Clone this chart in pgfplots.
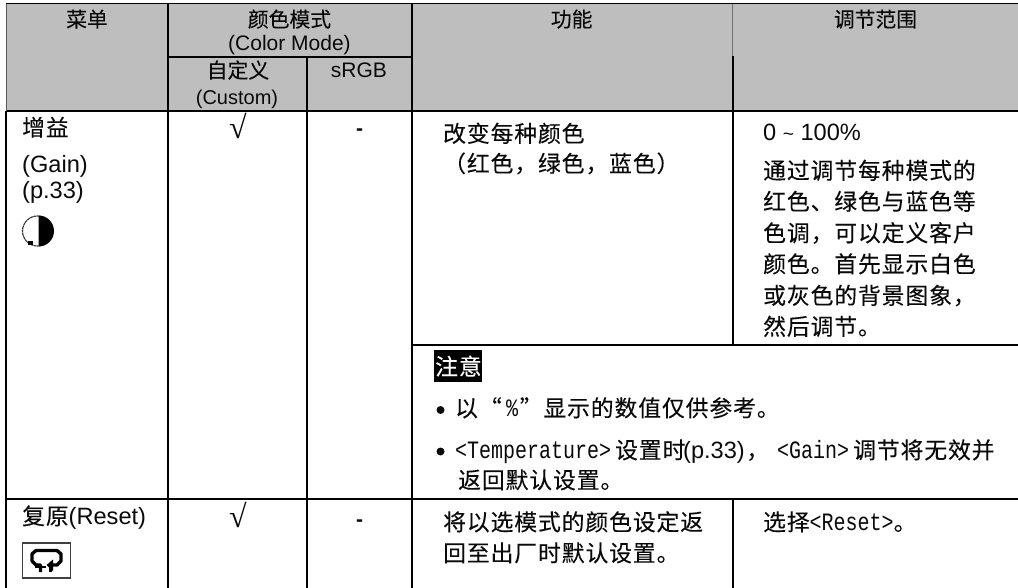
\documentclass[border=0pt]{standalone}
\usepackage{fontspec}
\usepackage{pgfplots}
\pgfplotsset{compat=1.18}
\setmainfont{Liberation Sans}
\newfontfamily\cjk[LetterSpace=4,FakeBold=0.15]{Noto Sans CJK SC}
\newfontfamily\cjkh[LetterSpace=0,FakeBold=0.1]{Noto Sans CJK SC}
\newfontfamily\mono[FakeStretch=0.8]{Liberation Mono}
\newfontfamily\srf{Liberation Serif}
\newcommand{\B}{\cjk\fontsize{22.8pt}{22.8pt}\selectfont}
\newcommand{\Bb}{\cjkh\fontsize{20.8pt}{20.8pt}\selectfont}
\newcommand{\La}{\normalfont\fontsize{23.6pt}{23.6pt}\selectfont}
\newcommand{\Lh}{\normalfont\fontsize{21pt}{21pt}\selectfont}
\newcommand{\M}{\mono\fontsize{25pt}{25pt}\selectfont}
\newcommand{\tl}[3]{\node[anchor=base west,inner sep=0pt,text=txt] at (axis cs:#1,#2) {#3};}
\newcommand{\tc}[3]{\node[anchor=base,inner sep=0pt,text=txt] at (axis cs:#1,#2) {#3};}
\definecolor{txt}{HTML}{0A0A0A}
\definecolor{hdr}{HTML}{BEBEBE}
\begin{document}
\begin{tikzpicture}[x=1pt,y=1pt]
\path[use as bounding box] (0,0) rectangle (1018pt,588pt);
\begin{axis}[at={(0,0)},anchor=south west,width=1018pt,height=588pt,scale only axis,hide axis,
  xmin=0,xmax=1018,ymin=0,ymax=588,y dir=reverse,clip=true]
% header fill
\addplot[fill=hdr,draw=none,forget plot] coordinates {(6,3.7)(1018,3.7)(1018,110.7)(6,110.7)} -- cycle;
% grid lines
\addplot[black,line width=1pt,forget plot] coordinates {(6,3.7)(1018,3.7)};
\addplot[black,line width=1.7pt,forget plot] coordinates {(167.7,56.7)(412.3,56.7)};
\addplot[black,line width=1.7pt,forget plot] coordinates {(6,110.7)(1018,110.7)};
\addplot[black,line width=1.7pt,forget plot] coordinates {(412.3,345)(1018,345)};
\addplot[black,line width=1.7pt,forget plot] coordinates {(6,499.3)(1018,499.3)};
\addplot[black!65,line width=1pt,forget plot] coordinates {(6,3.7)(6,110.7)};
\addplot[black,line width=1.5pt,forget plot] coordinates {(6,110.7)(6,588)};
\addplot[black,line width=1.7pt,forget plot] coordinates {(167.7,3.7)(167.7,588)};
\addplot[black,line width=1.7pt,forget plot] coordinates {(306.7,56.7)(306.7,588)};
\addplot[black,line width=1.7pt,forget plot] coordinates {(412.3,3.7)(412.3,588)};
\addplot[black!55,line width=1pt,forget plot] coordinates {(732.7,3.7)(732.7,56)};
\addplot[black,line width=1.7pt,forget plot] coordinates {(732.7,56)(732.7,345)};
\addplot[black,line width=1.7pt,forget plot] coordinates {(732.7,499.3)(732.7,588)};
% header text
\tc{87}{27}{\Bb 菜单}
\tc{289.5}{27}{\Bb 颜色模式}
\tc{289.5}{51}{\Lh (Color Mode)}
\tc{238}{78}{\Bb 自定义}
\tc{237}{105}{\normalfont\fontsize{20pt}{20pt}\selectfont (Custom)}
\tc{359}{78}{\Lh sRGB}
\tc{571.7}{27}{\Bb 功能}
\tc{875.5}{27}{\Bb 调节范围}
% column 1
\tl{22}{136}{\B 增益}
\tl{22}{173}{\La (Gain)}
\tl{22}{199}{\La (p.33)}
\tl{22}{524.5}{\B 复原\La(Reset)}
% marks
\tc{238}{139}{\srf\fontsize{32pt}{32pt}\selectfont √}
\tc{359.5}{136}{\normalfont\bfseries\fontsize{21pt}{21pt}\selectfont -}
\tc{238}{527}{\srf\fontsize{32pt}{32pt}\selectfont √}
\tc{359.5}{526}{\normalfont\bfseries\fontsize{21pt}{21pt}\selectfont -}
% function column
\tl{443}{142}{\B 改变每种颜色}
\tl{443}{172}{\B （红色，绿色，蓝色）}
\fill[black] (axis cs:434,350) rectangle (axis cs:482,382);
\node[anchor=base west,inner sep=0pt,text=white] at (axis cs:435,375) {\B 注意};
\fill[txt] (axis cs:440.5,410) circle[radius=4pt];
\tl{455}{416.5}{\B 以“}
\tl{506}{416.5}{\M \%}
\tl{519.5}{416.5}{\B ”显示的数值仅供参考。}
\fill[txt] (axis cs:440.5,451.5) circle[radius=4pt];
\tl{455}{458.5}{\M <Temperature>}
\tl{615}{458.5}{\B 设置时}
\tl{683}{458.5}{\La (p.33)}
\tl{746}{458.5}{\B ，}
\tl{777}{458.5}{\M <Gain>}
\tl{853}{458.5}{\B 调节将无效并}
\tl{458}{488.5}{\B 返回默认设置。}
\tl{443}{530.5}{\B 将以选模式的颜色设定返}
\tl{443}{561.5}{\B 回至出厂时默认设置。}
% range column
\tl{763}{140.5}{\La 0 {\fontsize{19pt}{19pt}\selectfont\char`\~} 100\%}
\tl{763}{179}{\B 通过调节每种模式的}
\tl{763}{210}{\B 红色、绿色与蓝色等}
\tl{763}{241.5}{\B 色调，可以定义客户}
\tl{763}{272.5}{\B 颜色。首先显示白色}
\tl{763}{304}{\B 或灰色的背景图象，}
\tl{763}{335}{\B 然后调节。}
\tl{763}{530.5}{\B 选择\M <Reset>\B 。}
% half circle icon
\draw[black!80,line width=1.1pt,dash pattern=on 3pt off 0.5pt] (axis cs:37.5,231) circle[radius=15pt];
\fill[black] (axis cs:38.5,215.5) arc[start angle=90,end angle=-90,radius=15.5pt] -- cycle;
\fill[black] (axis cs:28,241.5) rectangle (axis cs:33,245);
% reset icon
\draw[black!75,line width=1.2pt,fill=white] (axis cs:22.5,543) rectangle (axis cs:70.5,578);
\draw[black,line width=3.4pt,line join=round] (axis cs:40.5,572) -- (axis cs:40.5,565) -- (axis cs:36,565) -- (axis cs:32,561) -- (axis cs:32,554) -- (axis cs:36,550.5) -- (axis cs:57,550.5) -- (axis cs:61,554) -- (axis cs:61,561) -- (axis cs:57,565) -- (axis cs:52,565);
\addplot[black,line width=1.8pt,forget plot] coordinates {(35,567)(46,567)};
\fill[black] (axis cs:53,559.5) -- (axis cs:53,571) -- (axis cs:46.5,565) -- cycle;
\addplot[black,line width=2.8pt,forget plot] coordinates {(50.5,565)(50.5,572)};
\end{axis}
\end{tikzpicture}
\end{document}
